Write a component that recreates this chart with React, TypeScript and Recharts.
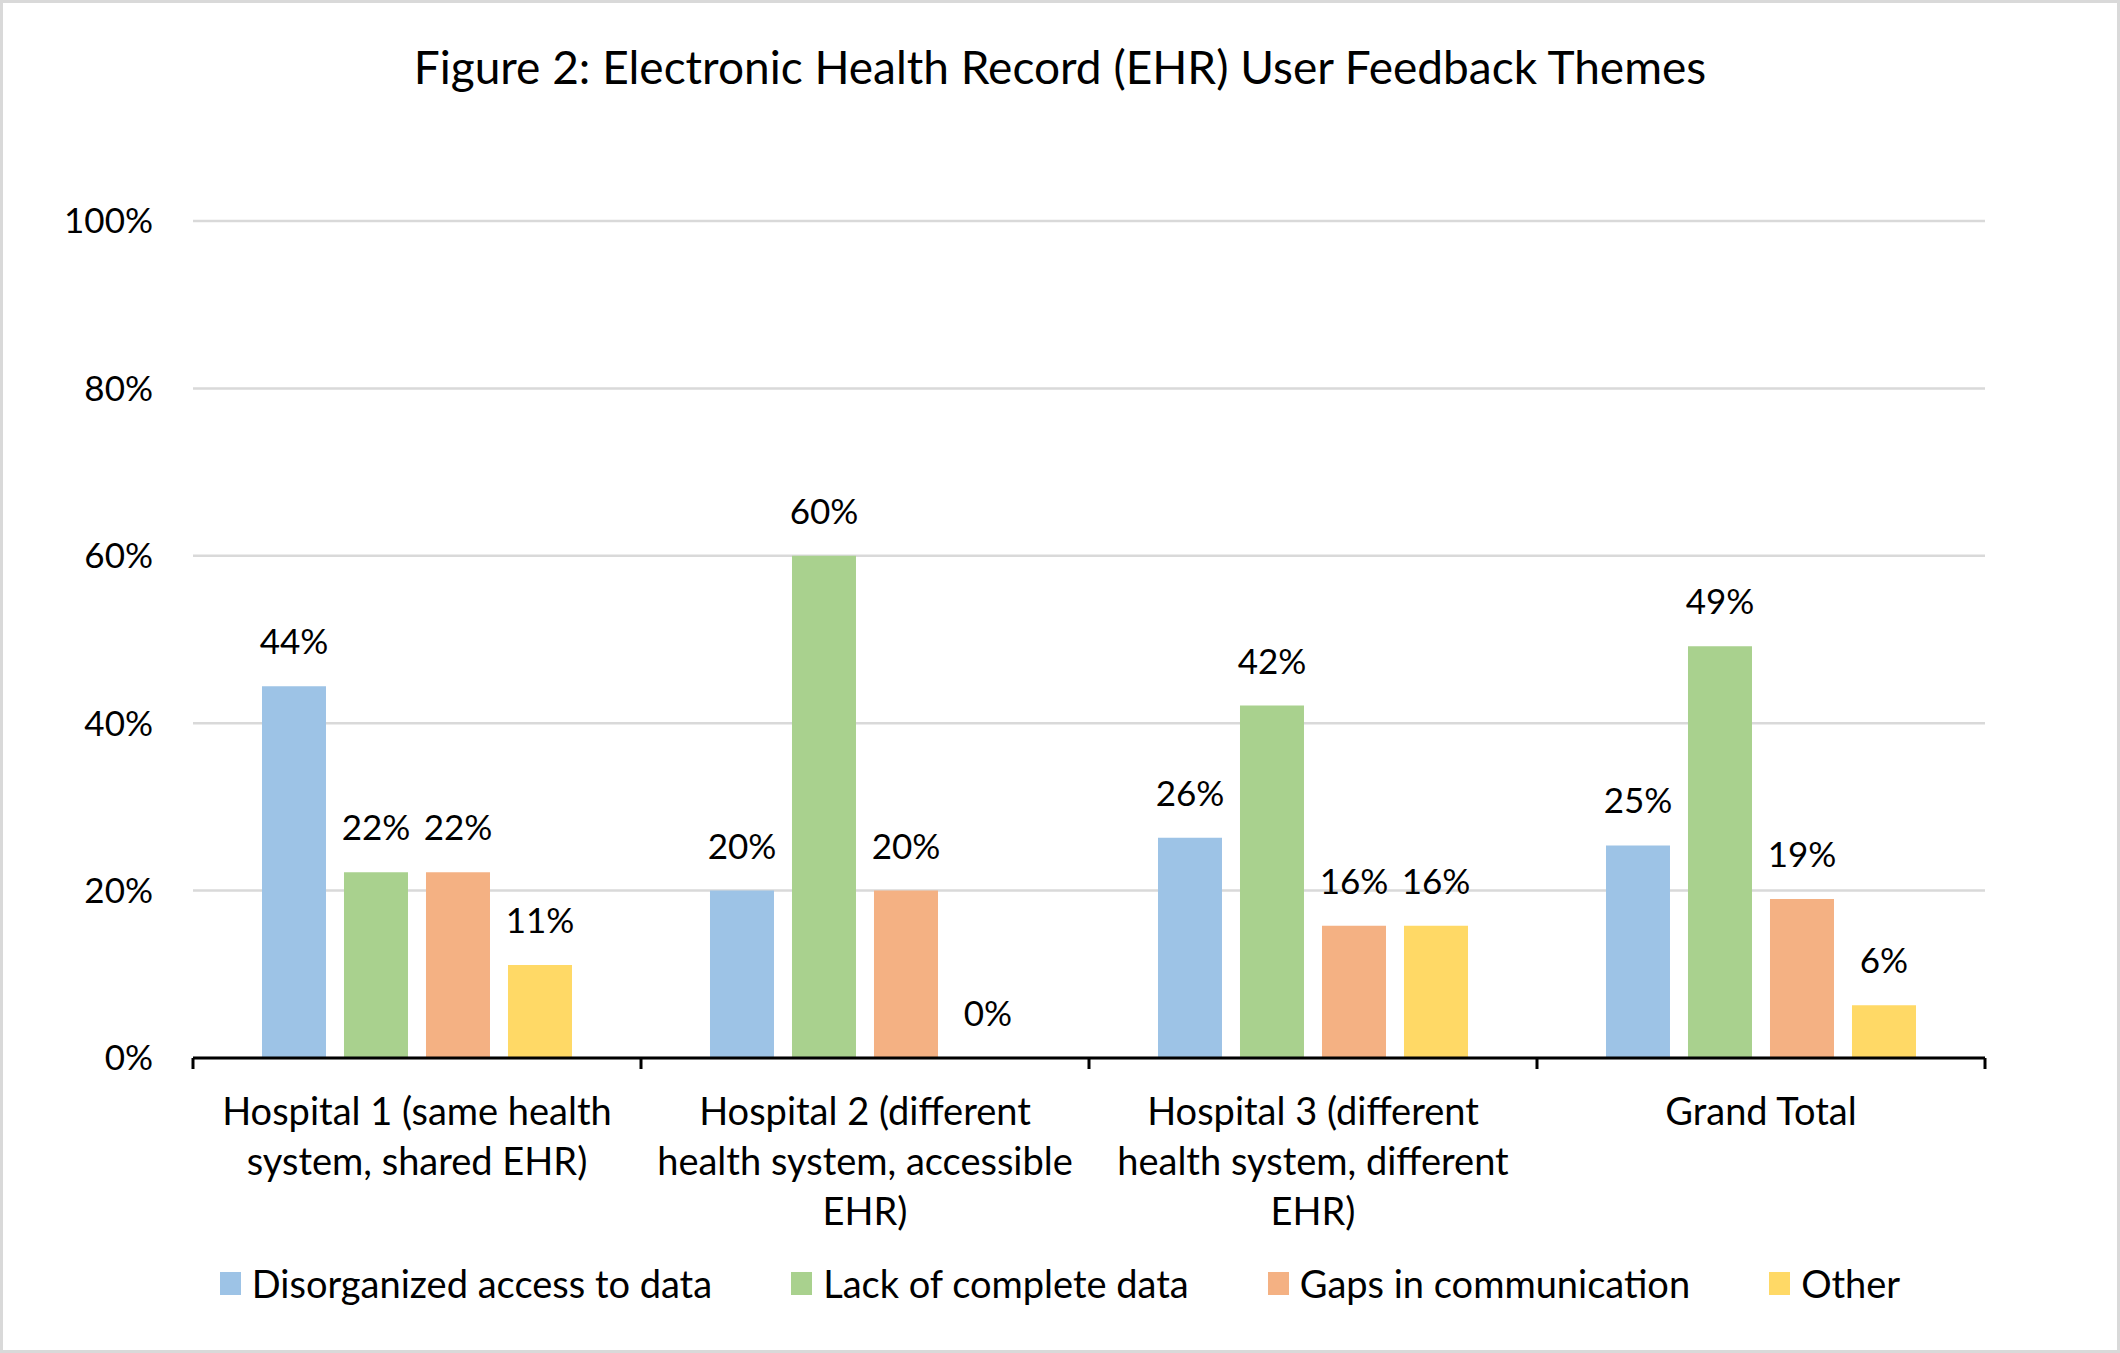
import React from 'react';
import { BarChart, Bar, XAxis, YAxis, CartesianGrid, Legend, LabelList } from 'recharts';

const categoryLines: string[][] = [
  ['Hospital 1 (same health', 'system, shared EHR)'],
  ['Hospital 2 (different', 'health system, accessible', 'EHR)'],
  ['Hospital 3 (different', 'health system, different', 'EHR)'],
  ['Grand Total'],
];
const categories = categoryLines.map((l) => l.join(' '));

const seriesNames = ['Disorganized access to data', 'Lack of complete data', 'Gaps in communication', 'Other'];
const disorganized = [0.444, 0.2, 0.263, 0.254];
const lackData = [0.222, 0.6, 0.421, 0.492];
const gaps = [0.222, 0.2, 0.158, 0.19];
const other = [0.111, 0, 0.158, 0.063];
const yTicks = [0, 0.2, 0.4, 0.6, 0.8, 1];
const colors = ['#9DC3E6', '#A9D18E', '#F4B183', '#FFD966'];
const title = 'Figure 2: Electronic Health Record (EHR) User Feedback Themes';

const data = categories.map((c, i) => ({
  name: c,
  s0: disorganized[i],
  s1: lackData[i],
  s2: gaps[i],
  s3: other[i],
}));

const FONT = 'Lato, "Open Sans", sans-serif';
const pct = (v: any) => `${Math.round(Number(v) * 100)}%`;

const CategoryTick = (props: any) => {
  const { x, y, width, visibleTicksCount, index } = props;
  const band = width / visibleTicksCount;
  const lines = categoryLines[index] || [];
  return (
    <g>
      <line x1={x - band / 2} x2={x - band / 2} y1={y} y2={y + 11} stroke="#000" strokeWidth={3} />
      {index === visibleTicksCount - 1 && (
        <line x1={x + band / 2} x2={x + band / 2} y1={y} y2={y + 11} stroke="#000" strokeWidth={3} />
      )}
      {lines.map((l, i) => (
        <text
          key={i}
          x={x}
          y={y + 52 + i * 50}
          textAnchor="middle"
          dominantBaseline="central"
          fill="#000"
          fontSize={38}
          fontFamily={FONT}
        >
          {l}
        </text>
      ))}
    </g>
  );
};

const LegendContent = () => (
  <div style={{ display: 'flex', justifyContent: 'center', alignItems: 'center', gap: 79, fontFamily: FONT }}>
    {seriesNames.map((n, i) => (
      <div key={i} style={{ display: 'flex', alignItems: 'center' }}>
        <span style={{ display: 'inline-block', width: 21, height: 23, background: colors[i], marginRight: 11 }} />
        <span style={{ fontSize: 38, color: '#000', lineHeight: '44px' }}>{n}</span>
      </div>
    ))}
  </div>
);

export default function App() {
  const keys = ['s0', 's1', 's2', 's3'];
  return (
    <div style={{ position: 'absolute', left: 0, top: 0, width: 2120, height: 1353, background: '#fff', fontFamily: FONT }}>
      <div
        style={{
          position: 'absolute',
          left: 0,
          top: 0,
          width: 2120,
          height: 1353,
          border: '3px solid #D9D9D9',
          boxSizing: 'border-box',
          pointerEvents: 'none',
          zIndex: 2,
        }}
      />
      <div
        style={{
          position: 'absolute',
          left: 0,
          top: 39,
          width: 2120,
          textAlign: 'center',
          fontSize: 46,
          lineHeight: '56px',
          color: '#000',
          zIndex: 1,
        }}
      >
        {title}
      </div>
      <BarChart
        width={2120}
        height={1353}
        data={data}
        margin={{ top: 221, right: 135, bottom: 95, left: 0 }}
        barCategoryGap="15.4%"
        barGap={18}
      >
        <CartesianGrid vertical={false} stroke="#D9D9D9" strokeWidth={2.5} />
        <XAxis
          dataKey="name"
          axisLine={{ stroke: '#000', strokeWidth: 3 }}
          tickLine={false}
          tickSize={0}
          tickMargin={0}
          height={200}
          interval={0}
          tick={<CategoryTick />}
        />
        <YAxis
          domain={[0, 1]}
          ticks={yTicks}
          tickFormatter={pct}
          axisLine={false}
          tickLine={false}
          tickSize={0}
          tickMargin={40}
          width={193}
          tick={{ fill: '#000', fontSize: 35, fontFamily: FONT }}
        />
        <Legend
          verticalAlign="middle"
          align="center"
          layout="horizontal"
          content={<LegendContent />}
          wrapperStyle={{ top: 1261, left: 0, width: 2120 }}
        />
        {keys.map((k, i) => (
          <Bar
            key={k}
            dataKey={k}
            name={seriesNames[i]}
            fill={colors[i]}
            minPointSize={0.01}
            isAnimationActive={false}
          >
            <LabelList
              dataKey={k}
              position="top"
              offset={32}
              formatter={pct}
              fill="#000"
              fontSize={35}
              fontFamily={FONT}
            />
          </Bar>
        ))}
      </BarChart>
    </div>
  );
}
